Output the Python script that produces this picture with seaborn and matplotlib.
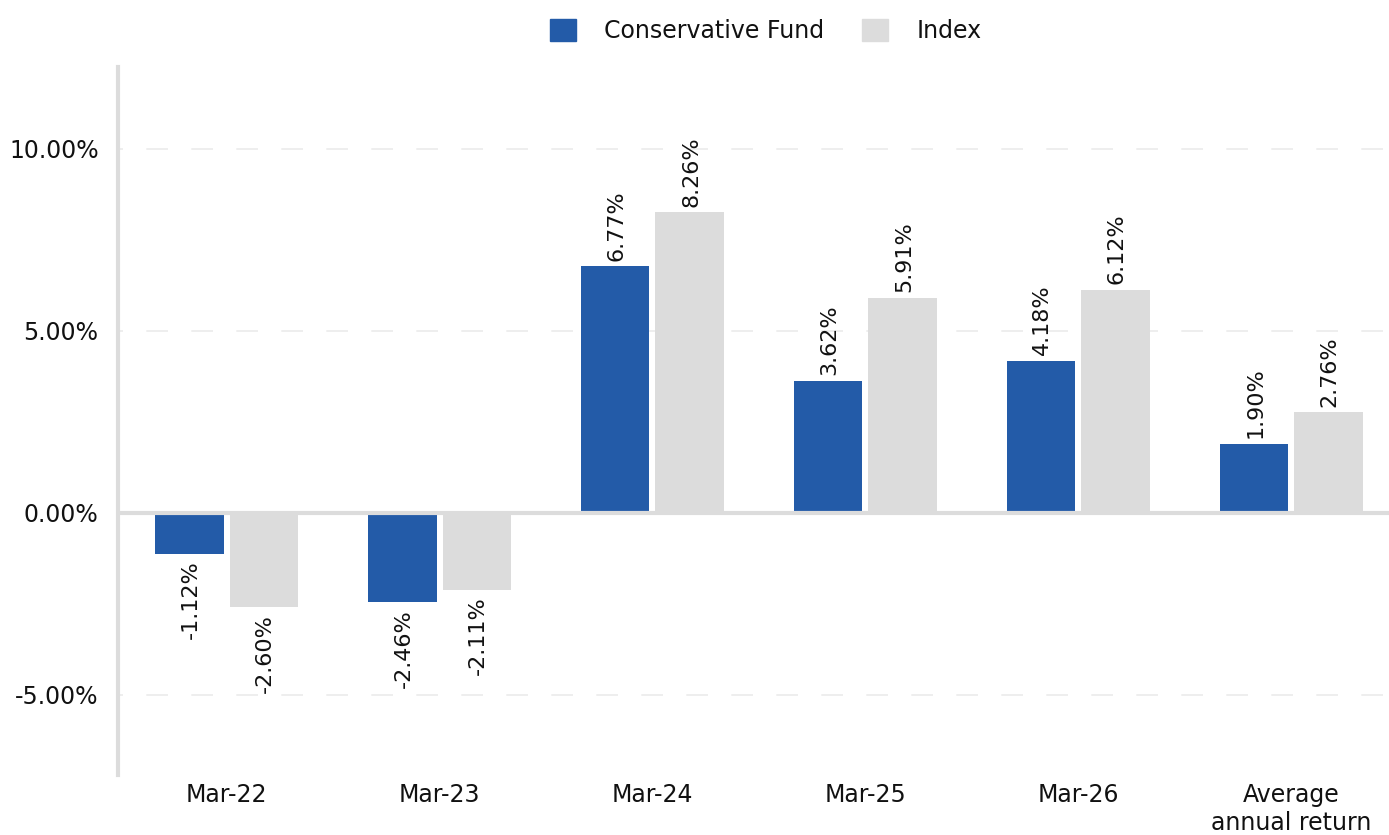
import pandas as pd
import seaborn as sns
import matplotlib.pyplot as plt
from matplotlib.ticker import FuncFormatter, MultipleLocator

# データ
periods = ['Mar-22', 'Mar-23', 'Mar-24', 'Mar-25', 'Mar-26', 'Average\nannual return']
fund = [-1.12, -2.46, 6.77, 3.62, 4.18, 1.90]
index = [-2.60, -2.11, 8.26, 5.91, 6.12, 2.76]
series = ['Conservative Fund', 'Index']

df = pd.DataFrame({
    'period': periods * 2,
    'value': fund + index,
    'series': [series[0]] * len(periods) + [series[1]] * len(periods),
})

sns.set_style('white')
plt.rcParams['font.family'] = ['DejaVu Sans']
plt.rcParams['text.color'] = '#111111'

# サイズ指定
fig = plt.figure(figsize=(13.89, 8.35), dpi=100)
ax = fig.add_axes([0.085, 0.072, 0.915, 0.848])

# 色の設定
palette = {'Conservative Fund': '#235ba8', 'Index': '#dcdcdc'}

sns.barplot(data=df, x='period', y='value', hue='series', palette=palette,
            width=0.7, gap=0.08, ax=ax, legend=False, saturation=1, linewidth=0)

ax.set_ylim(-7.2, 12.25)
ax.set_xlim(-0.51, 5.46)
ax.yaxis.set_major_locator(MultipleLocator(5))
ax.yaxis.set_major_formatter(FuncFormatter(lambda v, p: f'{v:.2f}%'))

# グリッド線(0以外)
for y in [-5, 5, 10]:
    ax.axhline(y, color='#ebebeb', lw=1.2, linestyle=(10, (13, 14)), zorder=0)
ax.axhline(0, color='#dcdcdc', lw=3, zorder=3)

for s in ['top', 'right', 'bottom']:
    ax.spines[s].set_visible(False)
ax.spines['left'].set_color('#dcdcdc')
ax.spines['left'].set_linewidth(3)

ax.tick_params(axis='both', length=0, labelsize=17, colors='#111111')
ax.tick_params(axis='y', pad=14)
ax.tick_params(axis='x', pad=6)
ax.set_xlabel('')
ax.set_ylabel('')

# 値ラベル
for cont in ax.containers:
    for bar in cont:
        h = bar.get_height()
        xc = bar.get_x() + bar.get_width() / 2
        if h >= 0:
            ax.annotate(f'{h:.2f}%', (xc, h), xytext=(1, 4), textcoords='offset points',
                        rotation=90, ha='center', va='bottom', fontsize=16)
        else:
            ax.annotate(f'{h:.2f}%', (xc, h), xytext=(1, -5), textcoords='offset points',
                        rotation=90, ha='center', va='top', fontsize=16)

# 凡例
handles = [plt.Rectangle((0, 0), 1, 1, color=palette[s]) for s in series]
fig.legend(handles, series, loc='upper center', bbox_to_anchor=(766 / 1389, 1.003),
           ncol=2, frameon=False, fontsize=17, handlelength=1.1, handleheight=1.1,
           handletextpad=1.2, columnspacing=1.6)

fig.savefig('out.png', dpi=100)
